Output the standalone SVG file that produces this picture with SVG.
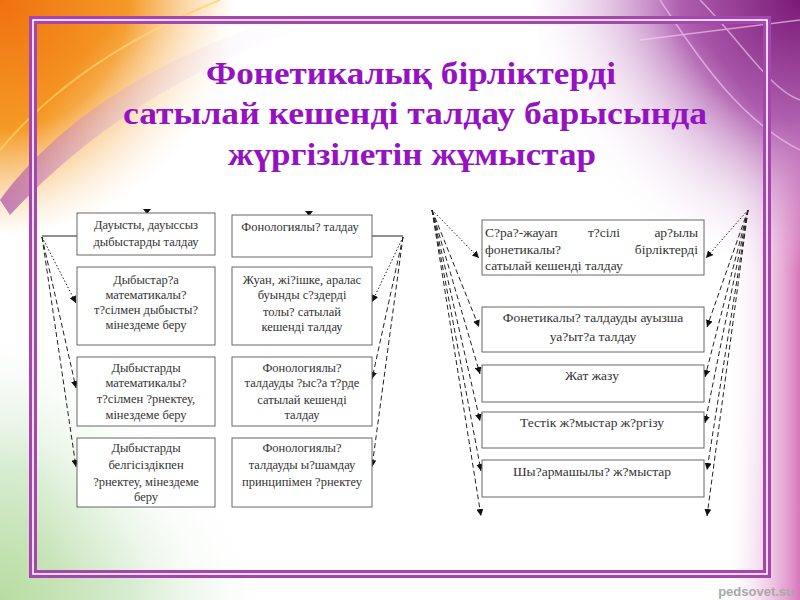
<svg xmlns="http://www.w3.org/2000/svg" width="800" height="600" viewBox="0 0 800 600">
<defs>
<style>
.box{fill:#fff;stroke:#666;stroke-width:1}
.t{font-family:"Liberation Serif","Times New Roman",serif;font-size:12.5px;fill:#333;text-anchor:middle}
.tr{font-family:"Liberation Serif","Times New Roman",serif;font-size:13.5px;fill:#333;text-anchor:middle}
.title{font-family:"Liberation Serif","Times New Roman",serif;font-size:32px;font-weight:bold;fill:#9412c2;text-anchor:middle}
.c{fill:none;stroke:#222;stroke-width:1}
.dot{stroke-dasharray:1.5 2}
.dash{stroke-dasharray:5 3}
.arr{marker-end:url(#ah)}
</style>
<marker id="ah" viewBox="0 0 10 10" refX="10" refY="5" markerWidth="7" markerHeight="7" orient="auto" markerUnits="userSpaceOnUse">
<path d="M0,0 L10,5 L0,10 z" fill="#111"/>
</marker>
<radialGradient id="gOr" cx="0" cy="0" r="235" gradientUnits="userSpaceOnUse">
<stop offset="0" stop-color="#f07010"/>
<stop offset="0.55" stop-color="#f59a25"/>
<stop offset="1" stop-color="#f8b860" stop-opacity="0"/>
</radialGradient>
<radialGradient id="gPu" cx="800" cy="0" r="270" gradientUnits="userSpaceOnUse">
<stop offset="0" stop-color="#7a1a78"/>
<stop offset="0.45" stop-color="#b060b0"/>
<stop offset="1" stop-color="#e8c8e8" stop-opacity="0"/>
</radialGradient>
<linearGradient id="gRt" x1="730" y1="0" x2="800" y2="0" gradientUnits="userSpaceOnUse">
<stop offset="0" stop-color="#f4d8ee" stop-opacity="0"/>
<stop offset="1" stop-color="#d878bc"/>
</linearGradient>
<radialGradient id="gGr" cx="0" cy="600" r="260" gradientUnits="userSpaceOnUse">
<stop offset="0" stop-color="#b8dca0"/>
<stop offset="0.5" stop-color="#d6ecd0"/>
<stop offset="1" stop-color="#eef6ec" stop-opacity="0"/>
</radialGradient>
<radialGradient id="gW" cx="400" cy="330" r="420" gradientUnits="userSpaceOnUse">
<stop offset="0.55" stop-color="#fff"/>
<stop offset="1" stop-color="#fff" stop-opacity="0"/>
</radialGradient>
<linearGradient id="gSw" x1="0" y1="200" x2="300" y2="0" gradientUnits="userSpaceOnUse">
<stop offset="0" stop-color="#a03aa0"/>
<stop offset="1" stop-color="#f0d0f0" stop-opacity="0"/>
</linearGradient>
</defs>

<g id="background">
<rect width="800" height="600" fill="#fff"/>
<rect width="800" height="600" fill="url(#gGr)"/>
<rect width="800" height="600" fill="url(#gRt)"/>
<rect width="800" height="600" fill="url(#gPu)"/>
<rect width="800" height="600" fill="url(#gOr)"/>
<path d="M0,200 C60,120 150,60 300,10 L310,25 C170,75 80,140 10,215 Z" fill="url(#gSw)" opacity="0.6"/>
<path d="M0,150 C50,90 120,40 220,0" fill="none" stroke="#ffd060" stroke-width="2" opacity="0.7"/>
<path d="M660,0 C700,60 740,120 800,150 M700,0 C740,40 770,90 800,100 M640,40 L800,20" fill="none" stroke="#f0c0f0" stroke-width="1.5" opacity="0.7"/>
<rect x="36" y="23" width="728" height="549" fill="url(#gW)"/>
</g>

<g id="frame">
<rect x="33" y="20" width="734" height="554" fill="none" stroke="#a446ae" stroke-width="8"/>
<rect x="33" y="20" width="734" height="554" fill="none" stroke="#fff" stroke-width="1.6"/>
</g>

<g id="title">
<text class="title" x="411" y="84" textLength="410" lengthAdjust="spacingAndGlyphs">Фонетикалық бірліктерді</text>
<text class="title" x="415" y="124" textLength="584" lengthAdjust="spacingAndGlyphs">сатылай кешенді талдау барысында</text>
<text class="title" x="412" y="165" textLength="368" lengthAdjust="spacingAndGlyphs">жүргізілетін жұмыстар</text>
</g>

<g id="connectors">
<path class="c" d="M77,236 H42"/>
<path class="c dot arr" d="M42,237 L76,303"/>
<path class="c dash arr" d="M42,237 L76,388"/>
<path class="c dash arr" d="M42,237 L76,467"/>
<path class="c" d="M372,236 H403"/>
<path class="c dot arr" d="M403,237 L372,302"/>
<path class="c dash arr" d="M403,237 L372,379"/>
<path class="c dash arr" d="M403,237 L372,467"/>
<path class="c dot arr" d="M432,210 L479,258"/>
<path class="c dash arr" d="M432,210 L479,327"/>
<path class="c dash arr" d="M432,210 L480,374"/>
<path class="c dash arr" d="M432,210 L480,421"/>
<path class="c dash arr" d="M432,210 L481,471"/>
<path class="c dash arr" d="M432,210 L481,516"/>
<path class="c dot arr" d="M748,210 L706,258"/>
<path class="c dash arr" d="M748,210 L707,327"/>
<path class="c dash arr" d="M748,210 L705,377"/>
<path class="c dash arr" d="M748,210 L705,423"/>
<path class="c dash arr" d="M748,210 L707,470"/>
<path class="c dash arr" d="M748,210 L707,516"/>
<path d="M143,209 L151,209 L147,214 Z" fill="#111"/>
<path d="M305,211 L313,211 L309,216 Z" fill="#111"/>
</g>

<g id="n1">
<rect class="box" x="77" y="213" width="138" height="42"/>
<text class="t" x="146" y="229">Дауысты, дауыссыз</text>
<text class="t" x="146" y="246">дыбыстарды талдау</text>
</g>
<g id="n2">
<rect class="box" x="77" y="267" width="138" height="78"/>
<text class="t" x="146" y="284">Дыбыстар?а</text>
<text class="t" x="146" y="299">математикалы?</text>
<text class="t" x="146" y="314">т?сілмен дыбысты?</text>
<text class="t" x="146" y="329">мінездеме беру</text>
</g>
<g id="n3">
<rect class="box" x="77" y="357" width="138" height="69"/>
<text class="t" x="146" y="372">Дыбыстарды</text>
<text class="t" x="146" y="387">математикалы?</text>
<text class="t" x="146" y="403">т?сілмен ?рнектеу,</text>
<text class="t" x="146" y="419">мінездеме беру</text>
</g>
<g id="n4">
<rect class="box" x="77" y="438" width="138" height="69"/>
<text class="t" x="146" y="452">Дыбыстарды</text>
<text class="t" x="146" y="469">белгісіздікпен</text>
<text class="t" x="146" y="486">?рнектеу, мінездеме</text>
<text class="t" x="146" y="501">беру</text>
</g>
<g id="n5">
<rect class="box" x="232" y="215" width="140" height="42"/>
<text class="t" x="300" y="231">Фонологиялы? талдау</text>
</g>
<g id="n6">
<rect class="box" x="232" y="267" width="140" height="78"/>
<text class="t" x="302" y="284">Жуан, жі?ішке, аралас</text>
<text class="t" x="302" y="299">буынды с?здерді</text>
<text class="t" x="302" y="316">толы? сатылай</text>
<text class="t" x="302" y="331">кешенді талдау</text>
</g>
<g id="n7">
<rect class="box" x="232" y="357" width="140" height="69"/>
<text class="t" x="302" y="372">Фонологиялы?</text>
<text class="t" x="302" y="387">талдауды ?ыс?а т?рде</text>
<text class="t" x="302" y="404">сатылай кешенді</text>
<text class="t" x="302" y="419">талдау</text>
</g>
<g id="n8">
<rect class="box" x="232" y="438" width="140" height="69"/>
<text class="t" x="302" y="452">Фонологиялы?</text>
<text class="t" x="302" y="469">талдауды ы?шамдау</text>
<text class="t" x="302" y="486">принципімен ?рнектеу</text>
</g>

<g id="r1">
<rect class="box" x="482" y="220" width="222" height="55"/>
<text class="tr" x="485" y="237" style="text-anchor:start">С?ра?-жауап</text>
<text class="tr" x="604" y="237">т?сілі</text>
<text class="tr" x="698" y="237" style="text-anchor:end">ар?ылы</text>
<text class="tr" x="485" y="254" style="text-anchor:start">фонетикалы?</text>
<text class="tr" x="698" y="254" style="text-anchor:end">бірліктерді</text>
<text class="tr" x="485" y="270" style="text-anchor:start">сатылай кешенді талдау</text>
</g>
<g id="r2">
<rect class="box" x="482" y="307" width="222" height="45"/>
<text class="tr" x="593" y="322">Фонетикалы? талдауды ауызша</text>
<text class="tr" x="593" y="341">уа?ыт?а талдау</text>
</g>
<g id="r3">
<rect class="box" x="482" y="365" width="222" height="37"/>
<text class="tr" x="592" y="380">Жат жазу</text>
</g>
<g id="r4">
<rect class="box" x="482" y="412" width="222" height="36"/>
<text class="tr" x="592" y="427">Тестік ж?мыстар ж?ргізу</text>
</g>
<g id="r5">
<rect class="box" x="482" y="460" width="222" height="37"/>
<text class="tr" x="592" y="476">Шы?армашылы? ж?мыстар</text>
</g>

<text x="794" y="596" style="font-family:'Liberation Sans',Arial,sans-serif;font-size:13px;font-weight:bold;fill:#a8a8a8;text-anchor:end">pedsovet.su</text>
</svg>
